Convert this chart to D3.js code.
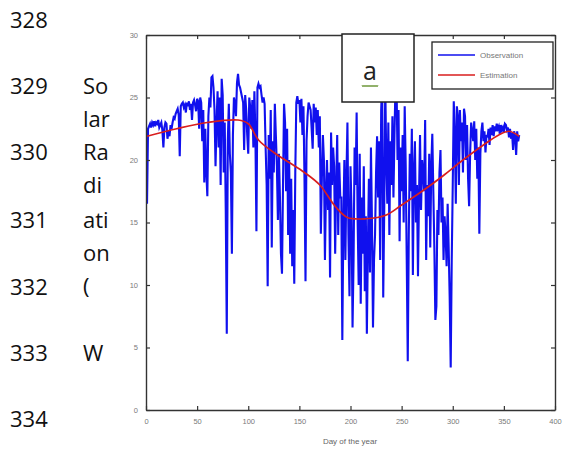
<!DOCTYPE html>
<html>
<head>
<meta charset="utf-8">
<script src="https://cdn.jsdelivr.net/npm/d3@7"></script>
<style>
  body { margin: 0; background: #fff; }
  svg { display: block; }
</style>
</head>
<body>
<script>
// daily observed solar radiation, day 1..365
var observation = [
  16.5, 22.5, 22.7, 22.9, 22.6, 23.0, 22.8, 23.1, 22.7, 23.0,
  22.9, 23.2, 22.6, 22.8, 23.0, 22.4, 21.0, 22.6, 23.0, 22.9,
  21.7, 22.3, 21.9, 22.8, 22.5, 23.0, 23.4, 23.3, 23.7, 23.9,
  24.1, 23.6, 20.3, 24.3, 24.5, 24.6, 24.2, 24.4, 23.8, 24.6,
  24.3, 24.7, 24.0, 24.5, 23.2, 24.6, 24.8, 24.4, 23.9, 24.9,
  24.7, 22.5, 25.0, 24.6, 21.5, 24.0, 18.2, 22.5, 19.0, 17.1,
  23.5, 25.0, 24.2, 26.6, 26.7, 25.8, 24.0, 19.5, 23.0, 25.5,
  21.0, 25.0, 18.0, 26.5, 25.2, 19.0, 23.0, 16.0, 6.1, 21.5,
  24.5, 20.5, 19.0, 12.5, 22.0, 25.0, 24.5, 23.5, 26.2, 26.9,
  26.0, 25.8, 25.4, 25.0, 24.6, 20.8, 25.2, 24.0, 22.0, 20.5,
  25.0, 24.2, 22.5, 24.8, 21.0, 25.5, 22.0, 14.3, 25.8, 26.1,
  25.8, 25.9, 25.2, 24.6, 25.0, 24.5, 21.0, 18.0, 9.9, 22.0,
  18.5, 24.0, 13.0, 21.5, 19.0, 24.5, 22.0, 19.5, 15.2, 20.5,
  17.0, 12.5, 10.9, 18.0, 24.5, 23.0, 17.5, 22.5, 14.0, 20.0,
  12.5, 18.5, 11.5, 16.0, 10.1, 19.0, 24.6, 25.1, 24.5, 24.8,
  23.0, 24.9, 22.0, 24.3, 18.5, 10.3, 21.5, 23.5, 24.6, 24.3,
  24.0, 22.5, 20.9, 24.5, 23.0, 24.2, 22.0, 24.0, 21.0, 23.5,
  14.1, 18.5, 22.0, 20.0, 12.0, 17.5, 20.0, 16.0, 19.0, 10.6,
  22.2, 18.0, 21.0, 19.5, 12.5, 18.0, 22.0, 14.0, 19.8, 17.0,
  17.0, 5.6, 15.0, 20.0, 12.0, 18.5, 23.0, 14.0, 9.1, 19.5,
  16.0, 6.6, 12.0, 21.0, 18.0, 23.8, 15.0, 10.0, 20.5, 8.5,
  17.0, 12.5, 19.5, 9.5, 15.5, 6.1, 13.0, 18.5, 11.0, 21.0,
  15.0, 6.6, 12.0, 14.0, 19.0, 21.9, 17.0, 21.5, 12.0, 24.0,
  26.3, 9.0, 16.0, 26.0, 20.0, 16.5, 23.0, 14.0, 21.5, 18.0,
  23.5, 17.0, 22.0, 26.0, 26.3, 20.0, 24.0, 13.5, 21.0, 17.5,
  22.0, 15.0, 24.3, 19.5, 12.0, 3.9, 14.0, 20.5, 17.5, 22.5,
  10.8, 19.0, 21.5, 15.0, 18.0, 10.7, 17.0, 22.0, 16.0, 20.0,
  19.0, 17.5, 23.2, 12.0, 18.0, 15.5, 20.5, 13.0, 19.5, 22.1,
  17.5, 13.0, 7.2, 8.3, 16.0, 14.0, 19.0, 20.8, 15.0, 17.0,
  12.0, 15.5, 14.0, 11.5, 16.5, 13.0, 9.0, 3.4, 12.0, 18.0,
  24.7, 22.0, 16.5, 24.3, 23.5, 18.0, 24.0, 21.5, 23.0, 19.0,
  24.1, 23.5, 20.0, 22.8, 18.5, 16.3, 20.5, 23.0, 22.3, 21.5,
  23.1, 20.0, 22.5, 18.5, 21.0, 14.1, 20.5, 22.3, 23.0, 21.5,
  22.3, 20.6, 22.0, 21.8, 22.5, 21.2, 22.6, 22.0, 22.8, 21.9,
  22.7, 22.3, 22.9, 22.5, 22.7, 22.1, 22.8, 22.4, 22.6, 22.2,
  22.9, 22.8, 22.4, 22.6, 21.8, 22.5, 21.7, 22.2, 20.8, 22.3,
  21.9, 20.4, 22.3, 21.5, 22.0
];

// smooth estimate, read at these days
var estDays = [1, 30, 60, 90, 100, 110, 125, 140, 155, 170, 185, 197, 215, 235, 250, 270, 290, 310, 330, 345, 355, 365];
var estimation = [21.9, 22.5, 23.0, 23.2, 22.9, 21.6, 20.6, 19.8, 19.0, 18.0, 16.3, 15.4, 15.3, 15.6, 16.4, 17.5, 18.7, 20.0, 21.2, 22.0, 22.3, 21.9];

var xTicks = [0, 50, 100, 150, 200, 250, 300, 350, 400];
var yTicks = [0, 5, 10, 15, 20, 25, 30];
var lineNumbers = ["328", "329", "330", "331", "332", "333", "334"];
var sideWords = ["So", "lar", "Ra", "di", "ati", "on", "(", "W"];
var legendLabels = ["Observation", "Estimation"];

var W = 567, H = 452;
var svg = d3.select("body").append("svg").attr("width", W).attr("height", H);

// page text on the left
var numY = [28, 94, 160, 228, 295, 361, 427];
svg.selectAll("text.num").data(lineNumbers).enter().append("text")
    .attr("class", "num")
    .attr("x", 10).attr("y", function (d, i) { return numY[i]; })
    .style("font-family", "'Open Sans', sans-serif").style("font-size", "22px").style("fill", "#111")
    .text(function (d) { return d; });

var wordY = [94, 127, 160, 193, 228, 261, 294, 361];
svg.selectAll("text.word").data(sideWords).enter().append("text")
    .attr("class", "word")
    .attr("x", 83).attr("y", function (d, i) { return wordY[i]; })
    .style("font-family", "'Open Sans', sans-serif").style("font-size", "22px").style("fill", "#111")
    .text(function (d) { return d; });

// plot area
var x = d3.scaleLinear().domain([0, 400]).range([146, 555]);
var y = d3.scaleLinear().domain([0, 30]).range([410, 35]);

var g = svg.append("g");

var obsLine = d3.line().x(function (d, i) { return x(i + 1); }).y(function (d) { return y(d); });
g.append("path").datum(observation)
    .attr("d", obsLine)
    .attr("fill", "none").attr("stroke", "#1010ee").attr("stroke-width", 2.1)
    .attr("stroke-linejoin", "miter");

var estLine = d3.line().curve(d3.curveCatmullRom)
    .x(function (d, i) { return x(estDays[i]); }).y(function (d) { return y(d); });
g.append("path").datum(estimation)
    .attr("d", estLine)
    .attr("fill", "none").attr("stroke", "#d81e1e").attr("stroke-width", 1.7);

// axes, matlab style box with inward ticks
var tickStyle = function (sel) {
    sel.select(".domain").attr("stroke", "#333").attr("stroke-width", 1.4);
    sel.selectAll(".tick line").attr("stroke", "#333").attr("stroke-width", 1.2);
    sel.selectAll(".tick text").style("fill", "#7a7a7a").style("font-family", "'Liberation Sans', Arial, sans-serif").style("font-size", "7.5px");
};

svg.append("g").attr("transform", "translate(0,410)")
    .call(d3.axisBottom(x).tickValues(xTicks).tickSize(-4).tickPadding(9).tickSizeOuter(0))
    .call(tickStyle);
svg.append("g").attr("transform", "translate(0,35)")
    .call(d3.axisTop(x).tickValues(xTicks).tickSize(-4).tickFormat("").tickSizeOuter(0))
    .call(tickStyle);
svg.append("g").attr("transform", "translate(146,0)")
    .call(d3.axisLeft(y).tickValues(yTicks).tickSize(-4).tickPadding(8).tickSizeOuter(0))
    .call(tickStyle);
svg.append("g").attr("transform", "translate(555,0)")
    .call(d3.axisRight(y).tickValues(yTicks).tickSize(-4).tickFormat("").tickSizeOuter(0))
    .call(tickStyle);

svg.append("text")
    .attr("x", 350).attr("y", 444).attr("text-anchor", "middle")
    .style("font-family", "'Liberation Sans', Arial, sans-serif").style("font-size", "8px").style("fill", "#666")
    .text("Day of the year");

// "a" label box
svg.append("rect").attr("x", 342).attr("y", 34).attr("width", 72).attr("height", 68)
    .attr("fill", "#fff").attr("stroke", "#222").attr("stroke-width", 1.5);
svg.append("text").attr("x", 370).attr("y", 80).attr("text-anchor", "middle")
    .style("font-family", "'Open Sans', sans-serif").style("font-size", "25px").style("fill", "#222")
    .text("a");
var squiggle = "M362,85";
for (var k = 0; k < 8; k++) squiggle += " l1,2 l1,-2";
svg.append("path").attr("d", squiggle).attr("fill", "none").attr("stroke", "#7aa04a").attr("stroke-width", 1);

// legend
var legend = svg.append("g");
legend.append("rect").attr("x", 432).attr("y", 42).attr("width", 121).attr("height", 47)
    .attr("fill", "#fff").attr("stroke", "#222").attr("stroke-width", 1.3);
var legendColors = ["#1010ee", "#d81e1e"];
legendLabels.forEach(function (lab, i) {
    var ly = 55 + i * 20;
    legend.append("line").attr("x1", 438).attr("x2", 475).attr("y1", ly).attr("y2", ly)
        .attr("stroke", legendColors[i]).attr("stroke-width", 1.6);
    legend.append("text").attr("x", 480).attr("y", ly + 3)
        .style("font-family", "'Liberation Sans', Arial, sans-serif").style("font-size", "8px").style("fill", "#777")
        .text(lab);
});
</script>
</body>
</html>
